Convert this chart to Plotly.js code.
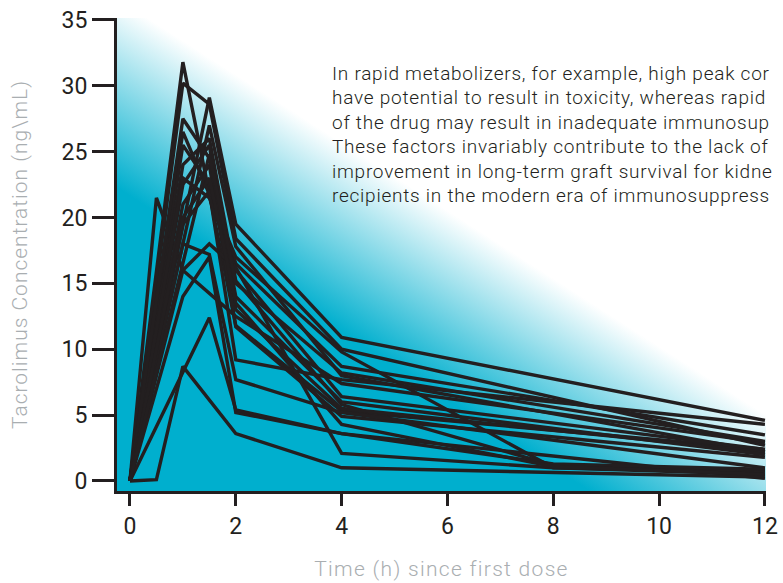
<!DOCTYPE html>
<html>
<head>
<meta charset="utf-8">
<script src="https://cdn.plot.ly/plotly-3.0.1.min.js"></script>
<style>
html,body{margin:0;padding:0;background:#fff;}
#chart{width:783px;height:583px;}
#chart .annotation-text{letter-spacing:0.75px;}
#chart .g-xtitle text{letter-spacing:1.3px;}
#chart .g-ytitle text{letter-spacing:1px;}
</style>
</head>
<body>
<div id="chart"></div>
<script>
// Sampling times (h) since first dose
const times = [0, 0.5, 1, 1.5, 2, 4, 8, 12];

// Tacrolimus concentration profiles (ng/mL), one array per patient (null = not sampled)
const p01 = [0, null, 31.8, null, 11.8, 5.3, null, 2.4];
const p02 = [0, null, 30.2, 28.6, 18.4, 10.0, null, 2.7];
const p03 = [0, null, null, 29.1, 19.5, 10.9, null, 4.6];
const p04 = [0, null, 26.5, null, 17.0, 9.8, 1.0, 0.7];
const p05 = [0, null, 25.5, 22.5, 16.5, 8.7, null, 3.5];
const p06 = [0, null, null, 27.0, 17.8, 8.0, null, 2.2];
const p07 = [0, 21.5, 16.0, null, 12.5, 7.4, null, 2.9];
const p08 = [0, null, 24.0, 26.0, 15.2, 5.8, 1.2, 0.8];
const p09 = [0, null, 22.5, 25.5, 13.0, 5.5, null, 2.2];
const p10 = [0, null, 21.0, 24.0, 11.7, 4.9, null, 1.8];
const p11 = [0, null, 19.5, 22.0, 9.2, 7.7, null, 4.3];
const p12 = [0, null, 18.0, 17.2, 7.7, 5.2, null, 1.0];
const p13 = [0, null, 16.0, 18.0, 16.2, 2.1, 1.0, 0.5];
const p14 = [0, null, 14.0, 17.0, 5.2, 3.6, null, 0.2];
const p15 = [0, null, null, 12.4, 5.4, 3.6, 1.3, 0.9];
const p16 = [0, 0.1, 8.7, null, 3.6, 1.0, null, 0.3];
const p17 = [0, null, 23.0, 21.5, 16.0, 6.4, null, 2.4];
const p18 = [0, null, 27.5, 24.5, 14.0, 6.0, null, 2.0];
const p19 = [0, null, 20.0, 23.0, 13.5, 4.3, 1.1, 0.5];
const p20 = [0, null, null, 24.8, 15.0, 8.2, null, 3.0];

const profiles = [p01,p02,p03,p04,p05,p06,p07,p08,p09,p10,p11,p12,p13,p14,p15,p16,p17,p18,p19,p20];

// Tick labels
const xTicks = [0, 2, 4, 6, 8, 10, 12];
const yTicks = [0, 5, 10, 15, 20, 25, 30, 35];

const noteLines = [
  "In rapid metabolizers, for example, high peak cor",
  "have potential to result in toxicity, whereas rapid",
  "of the drug may result in inadequate immunosup",
  "These factors invariably contribute to the lack of",
  "improvement in long-term graft survival for kidne",
  "recipients in the modern era of immunosuppress"
];

const ink = '#231F20';
const titleGrey = '#A9AEB1';

const traces = profiles.map(v => ({
  x: times, y: v, type: 'scatter', mode: 'lines', connectgaps: true,
  line: {color: ink, width: 3.4}, hoverinfo: 'skip', showlegend: false
}));

// diagonal teal-to-white background gradient for the plot area
const svg = '<svg xmlns="http://www.w3.org/2000/svg" width="649" height="473" viewBox="0 0 649 473" preserveAspectRatio="none">' +
  '<defs><linearGradient id="g" gradientUnits="userSpaceOnUse" x1="-43" y1="142" x2="43" y2="8">' +
  '<stop offset="0" stop-color="#00AFCE"/><stop offset="1" stop-color="#FFFFFF"/>' +
  '</linearGradient></defs><rect x="0" y="0" width="649" height="473" fill="url(#g)"/></svg>';

const plotTop = 18, plotBottom = 491, plotLeft = 117, plotW = 649, plotH = 473;
const lineCentersPx = [73, 97.5, 122, 146.5, 171, 195.5];

const notes = noteLines.map((t, i) => ({
  xref: 'paper', yref: 'paper', x: (330 - plotLeft) / plotW, y: (plotBottom - lineCentersPx[i]) / plotH,
  xanchor: 'left', yanchor: 'middle', align: 'left', showarrow: false, text: t,
  font: {size: 19, color: ink, weight: 300, family: 'Roboto, Arial, sans-serif'}
}));

const layout = {
  width: 783, height: 583,
  margin: {l: 117, r: 17, t: 18, b: 92},
  paper_bgcolor: '#ffffff', plot_bgcolor: 'rgba(0,0,0,0)',
  font: {family: 'Roboto, Arial, sans-serif', color: ink},
  images: [{
    source: 'data:image/svg+xml;charset=utf-8,' + encodeURIComponent(svg),
    xref: 'paper', yref: 'paper', x: 0, y: 1, sizex: 1, sizey: 1,
    xanchor: 'left', yanchor: 'top', sizing: 'stretch', layer: 'below'
  }],
  xaxis: {
    range: [-0.245, 12.02], tickvals: xTicks, ticktext: xTicks.map(String),
    showline: true, linewidth: 3, linecolor: ink, ticks: 'outside', ticklen: 12, tickwidth: 3, tickcolor: ink,
    showgrid: false, zeroline: false, tickfont: {size: 23, color: ink},
    title: {text: 'Time (h) since first dose', font: {size: 21, color: titleGrey, weight: 300}, standoff: 23}
  },
  yaxis: {
    range: [-0.76, 35.15], tickvals: yTicks, ticktext: yTicks.map(String),
    showline: true, linewidth: 3, linecolor: ink, ticks: 'outside', ticklen: 22, tickwidth: 3, tickcolor: ink,
    showgrid: false, zeroline: false, tickfont: {size: 23, color: ink},
    title: {text: 'Tacrolimus Concentration (ng\\mL)', font: {size: 21, color: titleGrey, weight: 300}, standoff: 29}
  },
  annotations: notes
};

Plotly.newPlot('chart', traces, layout, {staticPlot: true, displayModeBar: false});
</script>
</body>
</html>
